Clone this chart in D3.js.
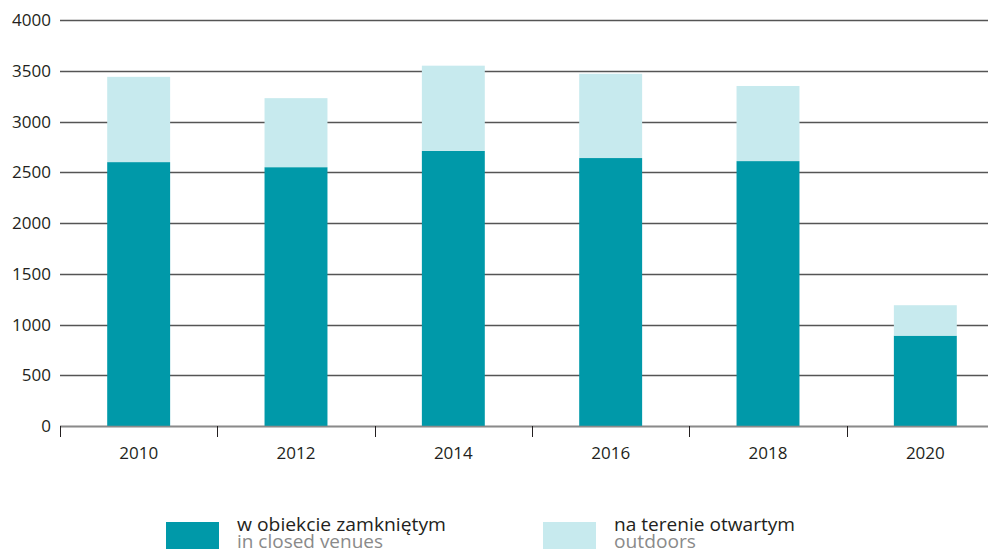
<!DOCTYPE html>
<html>
<head>
<meta charset="utf-8">
<script src="https://cdn.jsdelivr.net/npm/d3@7/dist/d3.min.js"></script>
<style>
  html, body { margin: 0; padding: 0; background: #fff; }
  svg { display: block; font-family: "Open Sans", "Noto Sans", sans-serif; }
</style>
</head>
<body>
<svg id="chart" width="988" height="552"></svg>
<script>
// Event counts by year, split by venue type
const years = ["2010", "2012", "2014", "2016", "2018", "2020"];
const closedVenues = [2600, 2550, 2710, 2640, 2610, 890];
const outdoors = [840, 680, 840, 830, 740, 300];
const yTicks = [0, 500, 1000, 1500, 2000, 2500, 3000, 3500, 4000];
const legendMain = ["w obiekcie zamkniętym", "na terenie otwartym"];
const legendSub = ["in closed venues", "outdoors"];

const colors = ["#0099a9", "#c7eaee"];

const svg = d3.select("#chart");
const plotLeft = 60, plotRight = 1004, plotTop = 20, plotBottom = 426;

const x = d3.scaleBand().domain(years).range([plotLeft, plotRight])
  .paddingInner(0.6).paddingOuter(0.3);
const y = d3.scaleLinear().domain([0, 4000]).range([plotBottom, plotTop]);

// horizontal gridlines
svg.append("g").selectAll("line").data(yTicks).join("line")
  .attr("x1", plotLeft).attr("x2", 988)
  .attr("y1", d => Math.round(y(d)) + 0.5).attr("y2", d => Math.round(y(d)) + 0.5)
  .attr("stroke", "#555").attr("stroke-width", 1.3);

// y tick labels
svg.append("g").selectAll("text").data(yTicks).join("text")
  .attr("x", 51).attr("y", d => y(d)).attr("dy", "0.36em")
  .attr("text-anchor", "end").attr("font-size", 17).attr("fill", "#231f20")
  .text(d => d);

// stacked bars
const rows = years.map((yr, i) => ({ year: yr, closed: closedVenues[i], outdoors: outdoors[i] }));
const stack = d3.stack().keys(["closed", "outdoors"])(rows);
svg.append("g").selectAll("g").data(stack).join("g")
  .attr("fill", (d, i) => colors[i])
  .selectAll("rect").data(d => d).join("rect")
  .attr("x", d => x(d.data.year)).attr("width", x.bandwidth())
  .attr("y", d => y(d[1])).attr("height", d => y(d[0]) - y(d[1]));

// x axis baseline and tick marks between categories
svg.append("line").attr("x1", plotLeft).attr("x2", 988)
  .attr("y1", plotBottom + 0.5).attr("y2", plotBottom + 0.5)
  .attr("stroke", "#8a8a8a").attr("stroke-width", 1.3);
const step = x.step();
svg.append("g").selectAll("line").data(d3.range(years.length + 1)).join("line")
  .attr("x1", i => Math.round(plotLeft + i * step) + 0.5).attr("x2", i => Math.round(plotLeft + i * step) + 0.5)
  .attr("y1", plotBottom).attr("y2", plotBottom + 11)
  .attr("stroke", "#231f20").attr("stroke-width", 1);

svg.append("g").selectAll("text").data(years).join("text")
  .attr("x", d => x(d) + x.bandwidth() / 2).attr("y", 459)
  .attr("text-anchor", "middle").attr("font-size", 17).attr("fill", "#231f20")
  .text(d => d);

// legend: swatch, Polish label and English subtitle
const legendX = [166, 543];
const mainWidth = [209, 181];
const subWidth = [146, 82];
const lg = svg.append("g").selectAll("g").data(legendMain).join("g")
  .attr("transform", (d, i) => `translate(${legendX[i]},0)`);
lg.append("rect").attr("x", 0).attr("y", 522).attr("width", 53).attr("height", 27)
  .attr("fill", (d, i) => colors[i]);
lg.append("text").attr("x", 71).attr("y", 531).attr("font-size", 19).attr("fill", "#231f20")
  .attr("textLength", (d, i) => mainWidth[i]).attr("lengthAdjust", "spacingAndGlyphs")
  .text(d => d);
lg.append("text").attr("x", 71).attr("y", 548).attr("font-size", 19).attr("fill", "#8a8a8a")
  .attr("textLength", (d, i) => subWidth[i]).attr("lengthAdjust", "spacingAndGlyphs")
  .text((d, i) => legendSub[i]);
</script>
</body>
</html>
